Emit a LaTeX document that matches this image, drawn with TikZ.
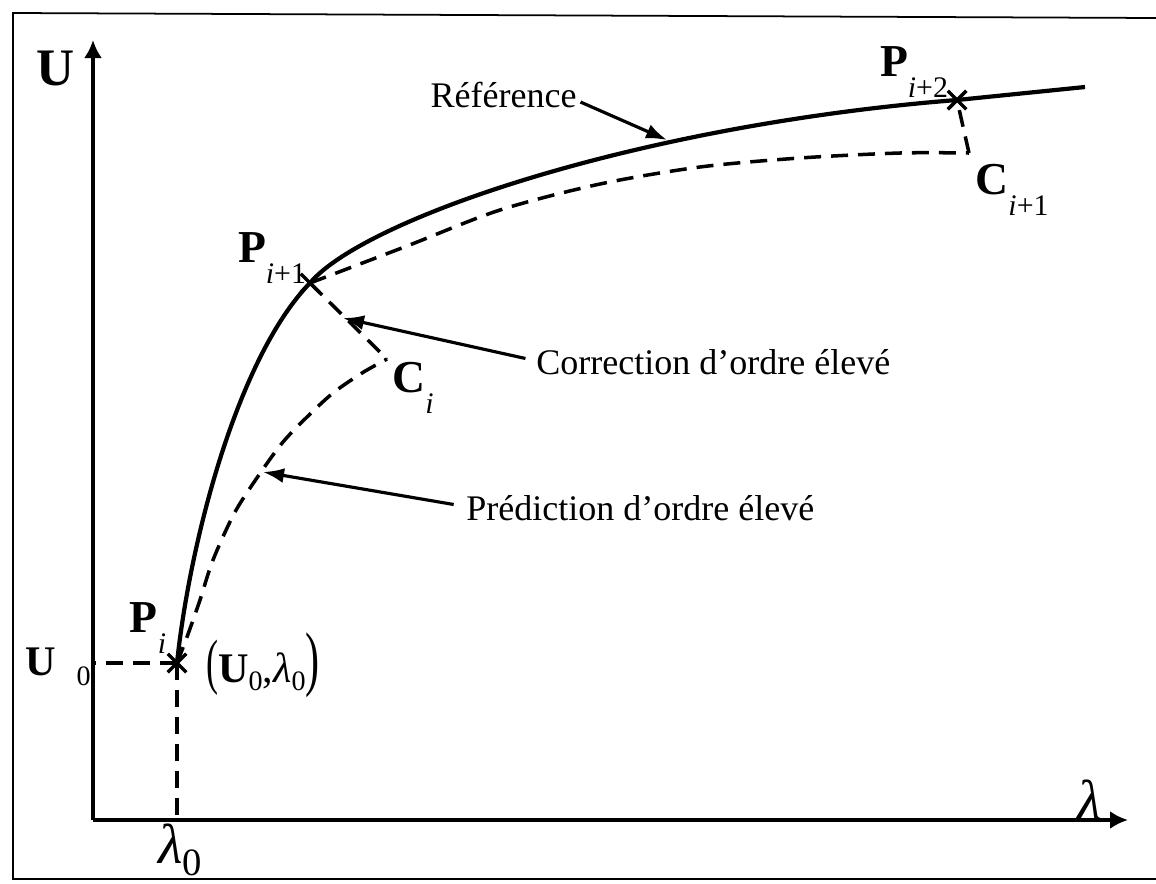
\documentclass[tikz,border=0pt]{standalone}
\usepackage{fontspec}
\setmainfont{Liberation Serif}
\usetikzlibrary{arrows.meta,shapes.misc}
\newcommand{\ptname}[2]{\textbf{#1}\raisebox{-.45em}{\fontsize{17}{17}\selectfont #2}}

\begin{document}
\begin{tikzpicture}[x=0.02cm,y=-0.02cm,
 axis/.style={line width=2pt,-{Latex[length=.36cm,width=.36cm]}},
 ref/.style={line width=2.4pt},
 pred/.style={line width=2pt,dash pattern=on .34cm off .2cm},
 lead/.style={line width=1.8pt,-{Latex[length=.42cm,width=.3cm]}},
 xmark/.style={draw,cross out,line width=2pt,inner sep=0pt,minimum size=.3cm},
 note/.style={font=\fontsize{20.5}{24}\selectfont,inner sep=0pt},
 pt/.style={font=\fontsize{26}{28}\selectfont,inner sep=0pt}]
\useasboundingbox (0,0) rectangle (1156,883);
% frame
\draw[line width=1pt] (1156,18) -- (13,13) -- (13,879) -- (1156,879);
% axes
\coordinate (O) at (93,820);
\coordinate (ytip) at (93,40);
\coordinate (xtip) at (1128,820);
\draw[axis] (O) -- (ytip);
\draw[axis] (O) -- (xtip);
\node[pt,font=\fontsize{30}{30}\selectfont] (ulab) at (56,68) {\textbf{U}};
\node[note,font=\fontsize{32}{32}\selectfont] (llab) at (1090,800) {\textit{λ}};
% points
\coordinate (Pi) at (177,663);
\coordinate (Pj) at (310,283);
\coordinate (Pk) at (957,100);
\coordinate (Ci) at (387,359);
\coordinate (Cj) at (969,153);
% curves
\draw[ref] (Pi) .. controls (190,540) and (238,357) .. (Pj)
  .. controls (365,218) and (640,125) .. (Pk) -- (1085,87);
\draw[pred] plot[smooth,tension=.5] coordinates {(Pi) (187,637) (200,600) (213,560) (235,512) (261,472) (283,442) (307,417) (333,393) (362,373) (Ci)};
\draw[pred] plot[smooth,tension=.5] coordinates {(Pj) (407,246) (500,210) (600,184) (700,167) (800,158) (900,153) (Cj)};
\draw[pred] (Pj) -- (Ci);
\draw[pred] (Cj) -- (Pk);
\draw[pred] (Pi) -- (Pi -| O);
\draw[pred] (Pi) -- (Pi |- O);
\foreach \p in {Pi,Pj,Pk}{\node[xmark] at (\p) {};}
% labels
\node[pt] (pilab) at (148,628) {\ptname{P}{\textit{i}}};
\node[pt] (pjlab) at (272,258) {\ptname{P}{\textit{i}+1}};
\node[pt] (pklab) at (914,72) {\ptname{P}{\textit{i}+2}};
\node[pt] (cilab) at (413,388) {\ptname{C}{\textit{i}}};
\node[pt] (cjlab) at (1012,190) {\ptname{C}{\textit{i}+1}};
\node[pt,font=\fontsize{24}{24}\selectfont] (u0) at (58,667) {\textbf{U}\hspace{12pt}\raisebox{-.25em}{\fontsize{16}{16}\selectfont 0}};
\node[note,font=\fontsize{32}{32}\selectfont] (l0) at (180,850) {\textit{λ}\raisebox{-.2em}{\fontsize{22}{22}\selectfont 0}};
\node[note] (p0) at (263,665) {\scalebox{1}[1.7]{(}\fontsize{24}{24}\selectfont\textbf{U}\raisebox{-.2em}{\fontsize{16}{16}\selectfont 0},\textit{λ}\raisebox{-.2em}{\fontsize{16}{16}\selectfont 0}\scalebox{1}[1.7]{)}};
% notes and leaders
\node[note,anchor=east] (refnote) at (577,95) {Référence};
\node[note,anchor=west] (cornote) at (536,362) {Correction d’ordre élevé};
\node[note,anchor=west] (prednote) at (466,508) {Prédiction d’ordre élevé};
\coordinate (reftip) at (667,140);
\coordinate (cortip) at (343,318);
\coordinate (predtip) at (263,472);
\draw[lead] ([xshift=2pt,yshift=-4pt]refnote.east) -- (reftip);
\draw[lead] ([xshift=-6pt,yshift=2pt]cornote.west) -- (cortip);
\draw[lead] ([xshift=-7pt,yshift=2pt]prednote.west) -- (predtip);
\end{tikzpicture}
\end{document}
